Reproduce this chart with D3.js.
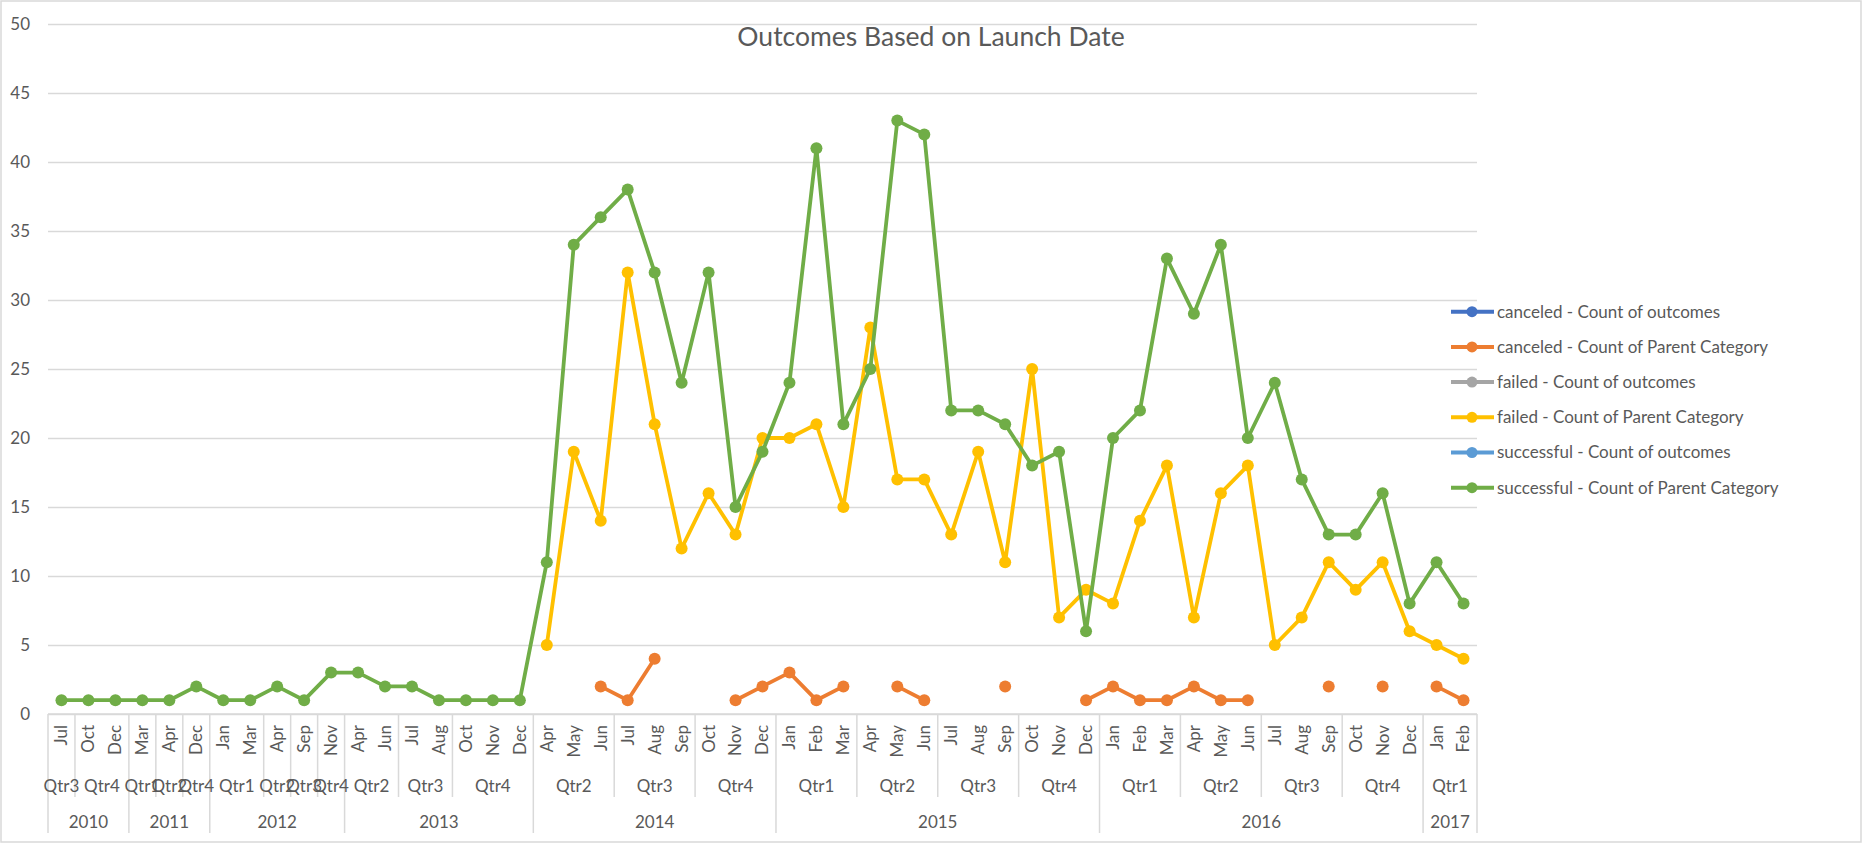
<!DOCTYPE html>
<html>
<head>
<meta charset="utf-8">
<script src="https://cdn.jsdelivr.net/npm/d3@7"></script>
<style>
  body { margin: 0; background: #fff; }
  svg { display: block; font-family: Lato, "Open Sans", sans-serif; }
</style>
</head>
<body>
<svg id="chart" width="1862" height="843"></svg>
<script>
// category axis: one entry per month that has data
const catYear = [
  2010, 2010, 2010,
  2011, 2011, 2011,
  2012, 2012, 2012, 2012, 2012,
  2013, 2013, 2013, 2013, 2013, 2013, 2013,
  2014, 2014, 2014, 2014, 2014, 2014, 2014, 2014, 2014,
  2015, 2015, 2015, 2015, 2015, 2015, 2015, 2015, 2015, 2015, 2015, 2015,
  2016, 2016, 2016, 2016, 2016, 2016, 2016, 2016, 2016, 2016, 2016, 2016,
  2017, 2017
];
const catMonth = [
  "Jul", "Oct", "Dec",
  "Mar", "Apr", "Dec",
  "Jan", "Mar", "Apr", "Sep", "Nov",
  "Apr", "Jun", "Jul", "Aug", "Oct", "Nov", "Dec",
  "Apr", "May", "Jun", "Jul", "Aug", "Sep", "Oct", "Nov", "Dec",
  "Jan", "Feb", "Mar", "Apr", "May", "Jun", "Jul", "Aug", "Sep", "Oct", "Nov", "Dec",
  "Jan", "Feb", "Mar", "Apr", "May", "Jun", "Jul", "Aug", "Sep", "Oct", "Nov", "Dec",
  "Jan", "Feb"
];
const monthOrder = ["Jan","Feb","Mar","Apr","May","Jun","Jul","Aug","Sep","Oct","Nov","Dec"];
const yTicks = [0, 5, 10, 15, 20, 25, 30, 35, 40, 45, 50];

// series (null = no value for that month)
const canceledOutcomes = [];
const canceledParent = [
  null, null, null,
  null, null, null,
  null, null, null, null, null,
  null, null, null, null, null, null, null,
  null, null, 2, 1, 4, null, null, 1, 2,
  3, 1, 2, null, 2, 1, null, null, 2, null, null, 1,
  2, 1, 1, 2, 1, 1, null, null, 2, null, 2, null,
  2, 1
];
const failedOutcomes = [];
const failedParent = [
  null, null, null,
  null, null, null,
  null, null, null, null, null,
  null, null, null, null, null, null, null,
  5, 19, 14, 32, 21, 12, 16, 13, 20,
  20, 21, 15, 28, 17, 17, 13, 19, 11, 25, 7, 9,
  8, 14, 18, 7, 16, 18, 5, 7, 11, 9, 11, 6,
  5, 4
];
const successfulOutcomes = [];
const successfulParent = [
  1, 1, 1,
  1, 1, 2,
  1, 1, 2, 1, 3,
  3, 2, 2, 1, 1, 1, 1,
  11, 34, 36, 38, 32, 24, 32, 15, 19,
  24, 41, 21, 25, 43, 42, 22, 22, 21, 18, 19, 6,
  20, 22, 33, 29, 34, 20, 24, 17, 13, 13, 16, 8,
  11, 8
];

const series = [
  { name: "canceled - Count of outcomes", color: "#4472C4", values: canceledOutcomes },
  { name: "canceled - Count of Parent Category", color: "#ED7D31", values: canceledParent },
  { name: "failed - Count of outcomes", color: "#A5A5A5", values: failedOutcomes },
  { name: "failed - Count of Parent Category", color: "#FFC000", values: failedParent },
  { name: "successful - Count of outcomes", color: "#5B9BD5", values: successfulOutcomes },
  { name: "successful - Count of Parent Category", color: "#70AD47", values: successfulParent }
];

const W = 1862, H = 843;
const plotLeft = 48, plotRight = 1477, plotTop = 24, plotBottom = 714;
const textColor = "#595959", gridColor = "#D9D9D9";
const axisFont = "17px";

const svg = d3.select("#chart");

svg.append("rect")
  .attr("x", 1).attr("y", 1).attr("width", W - 2).attr("height", H - 2)
  .attr("fill", "#fff").attr("stroke", gridColor).attr("stroke-width", 1.5);

const x = d3.scaleBand().domain(d3.range(catMonth.length)).range([plotLeft, plotRight]);
const y = d3.scaleLinear().domain([0, 50]).range([plotBottom, plotTop]);
const cx = i => x(i) + x.bandwidth() / 2;

// y gridlines and labels
const gy = svg.append("g")
  .attr("transform", `translate(${plotLeft},0)`)
  .call(d3.axisLeft(y).tickValues(yTicks).tickSize(-(plotRight - plotLeft)).tickPadding(18));
gy.attr("font-family", null).attr("font-size", null);
gy.select(".domain").remove();
gy.selectAll(".tick line").attr("stroke", gridColor).attr("stroke-width", 1.5);
gy.selectAll(".tick text").attr("fill", textColor).style("font-size", axisFont);

// category axis line
svg.append("line")
  .attr("x1", plotLeft).attr("x2", plotRight).attr("y1", plotBottom).attr("y2", plotBottom)
  .attr("stroke", gridColor).attr("stroke-width", 1.5);

// month labels
svg.append("g").selectAll("text")
  .data(catMonth)
  .join("text")
  .attr("transform", (d, i) => `translate(${cx(i)},725) rotate(-90)`)
  .attr("dy", "0.35em")
  .attr("text-anchor", "end")
  .attr("fill", textColor)
  .style("font-size", axisFont)
  .text(d => d);

// grouping of months into quarters and years
const qtrOf = m => "Qtr" + (Math.floor(monthOrder.indexOf(m) / 3) + 1);
function runs(keyFn) {
  const out = [];
  catMonth.forEach((m, i) => {
    const k = keyFn(i);
    const last = out[out.length - 1];
    if (last && last.key === k) last.end = i;
    else out.push({ key: k, start: i, end: i });
  });
  return out;
}
const qRuns = runs(i => catYear[i] + " " + qtrOf(catMonth[i]));
const yRuns = runs(i => String(catYear[i]));
const yearStarts = new Set(yRuns.map(r => r.start));

const sep = svg.append("g").attr("stroke", gridColor).attr("stroke-width", 1.5);
qRuns.filter(r => r.start > 0 && !yearStarts.has(r.start)).forEach(r => {
  sep.append("line").attr("x1", x(r.start)).attr("x2", x(r.start))
    .attr("y1", plotBottom).attr("y2", 797);
});
yRuns.forEach(r => {
  sep.append("line").attr("x1", x(r.start)).attr("x2", x(r.start))
    .attr("y1", plotBottom).attr("y2", 833);
});
sep.append("line").attr("x1", plotRight).attr("x2", plotRight).attr("y1", plotBottom).attr("y2", 833);

const spanMid = r => (x(r.start) + x(r.end) + x.bandwidth()) / 2;

svg.append("g").selectAll("text")
  .data(qRuns)
  .join("text")
  .attr("x", spanMid)
  .attr("y", 792)
  .attr("text-anchor", "middle")
  .attr("fill", textColor)
  .style("font-size", axisFont)
  .text(r => qtrOf(catMonth[r.start]));

svg.append("g").selectAll("text")
  .data(yRuns)
  .join("text")
  .attr("x", spanMid)
  .attr("y", 828)
  .attr("text-anchor", "middle")
  .attr("fill", textColor)
  .style("font-size", axisFont)
  .text(r => r.key);

// lines and markers
const line = d3.line()
  .defined(d => d != null)
  .x((d, i) => cx(i))
  .y(d => y(d));

series.forEach(s => {
  const g = svg.append("g");
  g.append("path")
    .datum(s.values)
    .attr("d", line)
    .attr("fill", "none")
    .attr("stroke", s.color)
    .attr("stroke-width", 3.8)
    .attr("stroke-linejoin", "round")
    .attr("stroke-linecap", "round");
  g.selectAll("circle")
    .data(s.values.map((v, i) => ({ v, i })).filter(d => d.v != null))
    .join("circle")
    .attr("cx", d => cx(d.i))
    .attr("cy", d => y(d.v))
    .attr("r", 6)
    .attr("fill", s.color);
});

// title
svg.append("text")
  .attr("x", W / 2).attr("y", 46)
  .attr("text-anchor", "middle")
  .attr("fill", textColor)
  .style("font-size", "26.5px")
  .text("Outcomes Based on Launch Date");

// legend
const legend = svg.append("g").selectAll("g")
  .data(series)
  .join("g")
  .attr("transform", (d, i) => `translate(1451,${311.7 + i * 35.2})`);
legend.append("line")
  .attr("x1", 0).attr("x2", 43)
  .attr("stroke", d => d.color).attr("stroke-width", 4);
legend.append("circle")
  .attr("cx", 21).attr("r", 5.5).attr("fill", d => d.color);
legend.append("text")
  .attr("x", 46).attr("dy", "0.35em")
  .attr("fill", textColor)
  .style("font-size", "17px")
  .text(d => d.name);
</script>
</body>
</html>
